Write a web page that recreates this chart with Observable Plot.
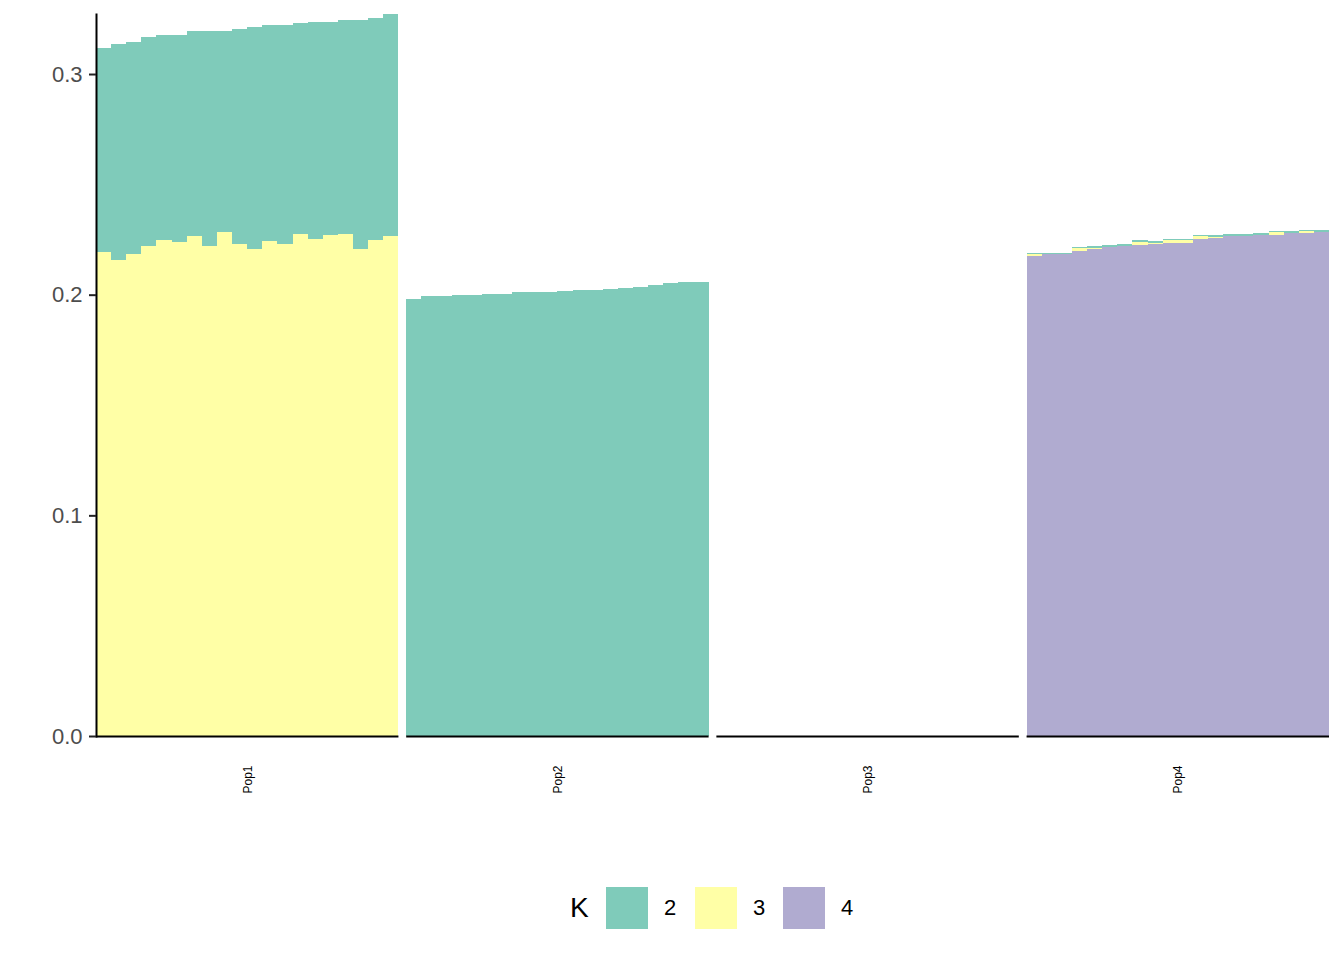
<!DOCTYPE html>
<html>
<head>
<meta charset="utf-8">
<script src="https://cdn.jsdelivr.net/npm/d3@7"></script>
<script src="https://cdn.jsdelivr.net/npm/@observablehq/plot@0.6"></script>
<style>
  body { margin: 0; background: #fff; font-family: Arial, "Liberation Sans", Helvetica, sans-serif; }
  #chart svg { display: block; }
  #legend { position: relative; width: 1344px; height: 90px; }
  #legend .item { position: absolute; display: flex; align-items: center; height: 42px; top: 17px; }
  #legend .sw { width: 42px; height: 42px; }
  #legend .title { font-size: 28px; color: #000; }
  #legend .lab { font-size: 22px; color: #000; }
</style>
</head>
<body>
<div id="chart"></div>
<div id="legend"></div>
<script>
// ---- data ----
const pops = ["Pop1", "Pop2", "Pop3", "Pop4"];
const kLevels = ["2", "3", "4"];
const kColors = ["#7fcbba", "#ffffa6", "#b0abd0"];
const individuals = d3.range(1, 21).map(i => "Ind" + i);
const yTicks = [0, 0.1, 0.2, 0.3];

const pop1K2 = [0.0925, 0.0975, 0.0957, 0.0944, 0.0930, 0.0939, 0.0929, 0.0975, 0.0911, 0.0975,
                0.1002, 0.0975, 0.0989, 0.0952, 0.0980, 0.0966, 0.0966, 0.1038, 0.1003, 0.1002];
const pop1K3 = [0.2195, 0.2159, 0.2186, 0.2222, 0.2249, 0.2240, 0.2268, 0.2222, 0.2286, 0.2231,
                0.2209, 0.2245, 0.2231, 0.2277, 0.2254, 0.2272, 0.2277, 0.2209, 0.2249, 0.2268];
const pop1K4 = [0, 0, 0, 0, 0, 0, 0, 0, 0, 0, 0, 0, 0, 0, 0, 0, 0, 0, 0, 0];

const pop2K2 = [0.1982, 0.1995, 0.1995, 0.2000, 0.2000, 0.2005, 0.2005, 0.2014, 0.2014, 0.2014,
                0.2018, 0.2023, 0.2023, 0.2027, 0.2032, 0.2036, 0.2045, 0.2054, 0.2059, 0.2059];
const pop2K3 = [0, 0, 0, 0, 0, 0, 0, 0, 0, 0, 0, 0, 0, 0, 0, 0, 0, 0, 0, 0];
const pop2K4 = [0, 0, 0, 0, 0, 0, 0, 0, 0, 0, 0, 0, 0, 0, 0, 0, 0, 0, 0, 0];

const pop3K2 = [0, 0, 0, 0, 0, 0, 0, 0, 0, 0, 0, 0, 0, 0, 0, 0, 0, 0, 0, 0];
const pop3K3 = [0, 0, 0, 0, 0, 0, 0, 0, 0, 0, 0, 0, 0, 0, 0, 0, 0, 0, 0, 0];
const pop3K4 = [0, 0, 0, 0, 0, 0, 0, 0, 0, 0, 0, 0, 0, 0, 0, 0, 0, 0, 0, 0];

const pop4K2 = [0.0005, 0.0004, 0.0004, 0.0004, 0.0012, 0.0009, 0.0009, 0.0010, 0.0012, 0.0004,
                0.0004, 0.0004, 0.0012, 0.0009, 0.0009, 0.0009, 0.0004, 0.0008, 0.0005, 0.0009];
const pop4K3 = [0.0008, 0.0001, 0.0001, 0.0012, 0.0001, 0.0001, 0.0001, 0.0010, 0.0001, 0.0012,
                0.0012, 0.0012, 0.0001, 0.0001, 0.0001, 0.0001, 0.0011, 0.0001, 0.0007, 0.0001];
const pop4K4 = [0.2177, 0.2185, 0.2185, 0.2200, 0.2209, 0.2216, 0.2221, 0.2227, 0.2231, 0.2236,
                0.2236, 0.2254, 0.2259, 0.2266, 0.2266, 0.2270, 0.2272, 0.2280, 0.2281, 0.2284];

// ---- table (stack order bottom→top: K4, K3, K2) ----
const byPop = {
  Pop1: {"2": pop1K2, "3": pop1K3, "4": pop1K4},
  Pop2: {"2": pop2K2, "3": pop2K3, "4": pop2K4},
  Pop3: {"2": pop3K2, "3": pop3K3, "4": pop3K4},
  Pop4: {"2": pop4K2, "3": pop4K3, "4": pop4K4}
};
const rows = [];
for (const p of pops) {
  individuals.forEach((ind, i) => {
    for (const k of ["4", "3", "2"]) {
      rows.push({pop: p, ind, K: k, value: byPop[p][k][i]});
    }
  });
}

const font = "Arial, 'Liberation Sans', Helvetica, sans-serif";
const chart = Plot.plot({
  width: 1344,
  height: 870,
  marginLeft: 96,
  marginRight: 15,
  marginTop: 14,
  marginBottom: 134,
  style: {fontFamily: font, background: "white", overflow: "visible"},
  fx: {domain: pops, paddingInner: 0.025, paddingOuter: 0, axis: null, round: false},
  x: {domain: individuals, padding: 0, axis: null, round: false},
  y: {domain: [0, 0.3272], axis: null},
  color: {domain: kLevels, range: kColors},
  marks: [
    Plot.barY(rows, {fx: "pop", x: "ind", y: "value", fill: "K", order: null, shapeRendering: "crispEdges"}),
    Plot.ruleY([0], {stroke: "black", strokeWidth: 2}),
    Plot.frame({anchor: "left", facetAnchor: "left", stroke: "black", strokeWidth: 2}),
    Plot.axisY({
      ticks: yTicks,
      tickFormat: d3.format(".1f"),
      tickSize: 7,
      tickPadding: 7,
      fontSize: 22,
      stroke: "#222",
      fill: "#4d4d4d",
      strokeWidth: 2,
      label: null
    }),
    Plot.axisFx({
      anchor: "bottom",
      tickSize: 0,
      tickPadding: 29,
      tickRotate: -90,
      fontSize: 12,
      fill: "#000",
      label: null
    })
  ]
});
document.getElementById("chart").appendChild(chart);

// ---- legend ----
const legend = document.getElementById("legend");
const addItem = (cls, left, content, color) => {
  const d = document.createElement("div");
  d.className = "item";
  d.style.left = left + "px";
  if (color) {
    const s = document.createElement("div");
    s.className = "sw";
    s.style.background = color;
    d.appendChild(s);
  } else {
    const t = document.createElement("span");
    t.className = cls;
    t.textContent = content;
    d.appendChild(t);
  }
  legend.appendChild(d);
};
addItem("title", 570, "K");
const swLeft = [606, 695, 783];
const labLeft = [664, 753, 841];
kLevels.forEach((k, i) => {
  addItem(null, swLeft[i], null, kColors[i]);
  addItem("lab", labLeft[i], k);
});
</script>
</body>
</html>
